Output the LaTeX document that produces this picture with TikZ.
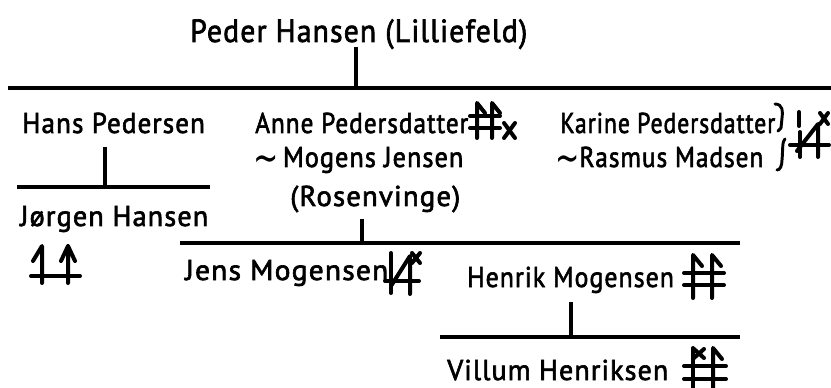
\documentclass[tikz,border=0pt]{standalone}
\usepackage{fontspec}
\usepackage{graphicx}
\setmainfont{PT Sans}
\newfontfamily\hand{PT Sans}[FakeBold=2.2,LetterSpace=4]
\newfontfamily\symfont{DejaVu Sans}
\newcommand{\fitt}[2]{\resizebox{#1pt}{\height}{#2}}
\newcommand{\swg}{\raisebox{-4.5pt}{\scalebox{1.15}[1.5]{\symfont\char"223C}}}
\begin{document}
\begin{tikzpicture}[x=0.75pt,y=-0.75pt,
  lbl/.style={anchor=base west,inner sep=0pt,font=\fontsize{21.5}{24}\hand},
  big/.style={anchor=base west,inner sep=0pt,font=\fontsize{24}{26}\hand},
  bar/.style={line width=2.5pt},
  sym/.style={line width=3pt,line cap=round,line join=round}]
\useasboundingbox (0,0) rectangle (831,388);
% texts
\node[big] (peder) at (190,42) {\fitt{252.75}{Peder Hansen (Lilliefeld)}};
\node[lbl] (hans) at (22,133) {\fitt{137}{Hans Pedersen}};
\node[lbl] (jorgen) at (20,226) {\fitt{141}{Jørgen Hansen}};
\node[lbl] (anne) at (255,133) {\fitt{159.75}{Anne Pedersdatter}};
\node[lbl] (mogens) at (253,167) {\fitt{157.5}{\swg\,Mogens Jensen}};
\node[lbl] (rosen) at (290,206) {\fitt{127.5}{(Rosenvinge)}};
\node[lbl] (karine) at (560,133) {\fitt{161.25}{Karine Pedersdatter}};
\node[lbl] (rasmus) at (555,167) {\fitt{156}{\swg Rasmus Madsen}};
\node[lbl] (jens) at (185,280) {\fitt{152.25}{Jens Mogensen}};
\node[lbl] (henrik) at (467,287) {\fitt{155}{Henrik Mogensen}};
\node[lbl] (villum) at (447,380) {\fitt{165.75}{Villum Henriksen}};
% bars and stems
\coordinate (b1l) at (8,88); \coordinate (b1r) at (831,88);
\coordinate (s1) at (356,47);
\draw[bar] (b1l) -- (b1r);
\draw[bar] (s1) -- (s1 |- b1l);
\coordinate (b2l) at (17,187); \coordinate (b2r) at (210,187);
\coordinate (s2) at (105,147);
\draw[bar] (b2l) -- (b2r);
\draw[bar] (s2) -- (s2 |- b2l);
\coordinate (b3l) at (180,243); \coordinate (b3r) at (740,243);
\coordinate (s3) at (362,219);
\draw[bar] (b3l) -- (b3r);
\draw[bar] (s3) -- (s3 |- b3l);
\coordinate (b4l) at (440,337); \coordinate (b4r) at (740,337);
\coordinate (s4) at (571,302);
\draw[bar] (b4l) -- (b4r);
\draw[bar] (s4) -- (s4 |- b4l);
% symbols
% Anne: hash with flags and x
\draw[sym] (477,138) -- (477,103) -- (485,113);
\draw[sym] (492,138) -- (492,103) -- (500,113);
\draw[sym] (470,116) -- (500,116);
\draw[sym] (470,128) -- (500,128);
\draw[sym] (504,123) -- (515,138) (515,123) -- (504,138);
% Joergen
\draw[sym] (42,283) -- (42,246) -- (33,261);
\draw[sym] (68,283) -- (68,246) -- (61,261) (68,246) -- (75,261);
\draw[sym] (31,276) -- (80,276);
% Jens
\draw[sym] (391,293) -- (391,253);
\draw[sym] (391,286) -- (410,256) -- (410,294);
\draw[sym] (385,281) -- (419,281);
\draw[sym] (412,253) -- (420,263) (420,253) -- (412,263);
% Karine bracket and symbol
\draw[sym,line width=2.2pt] (775,104) .. controls (783,104) and (783,112) .. (782,118) -- (781,128) -- (778,131);
\draw[sym,line width=2.2pt] (785,139) .. controls (782,141) and (783,150) .. (782,160) .. controls (782,166) and (780,170) .. (777,170);
\draw[sym] (799,112) -- (799,126);
\draw[sym] (800,132) -- (800,157);
\draw[sym] (797,151) -- (818,124) -- (818,157);
\draw[sym] (790,145) -- (829,145);
\draw[sym] (820,113) -- (828,124) (828,113) -- (820,124);
% Henrik
\draw[sym] (693,298) -- (693,255) -- (702,266);
\draw[sym] (712,298) -- (712,255) -- (721,266);
\draw[sym] (684,273) -- (724,273);
\draw[sym] (684,285) -- (724,285);
% Villum
\draw[sym] (693,390) -- (693,348);
\draw[sym] (694,349) -- (704,358) (694,358) -- (704,349);
\draw[sym] (713,390) -- (713,348) -- (722,359);
\draw[sym] (684,366) -- (726,366);
\draw[sym] (684,379) -- (726,379);
\end{tikzpicture}
\end{document}
